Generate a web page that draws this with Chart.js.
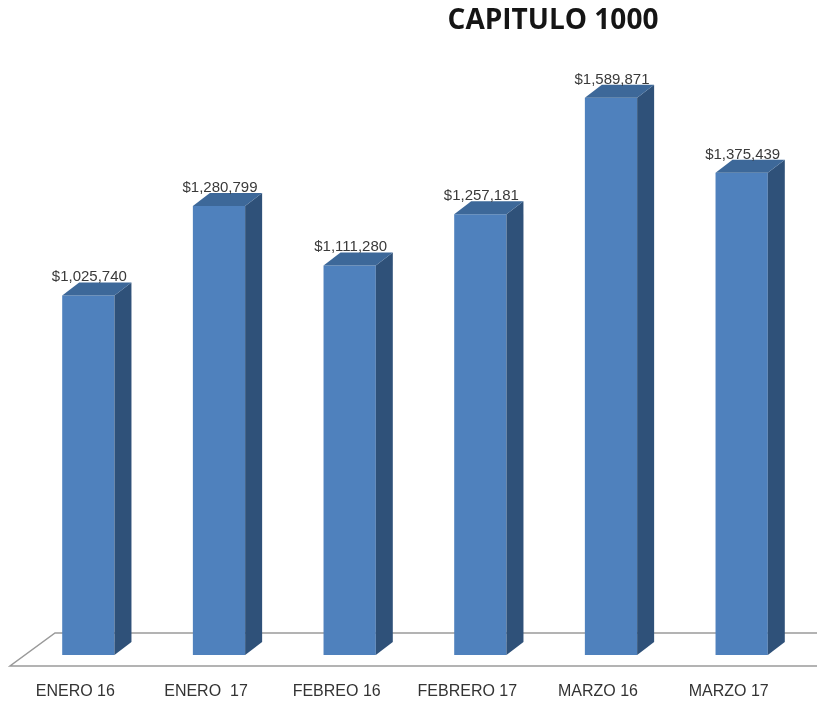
<!DOCTYPE html>
<html>
<head>
<meta charset="utf-8">
<script src="https://cdn.jsdelivr.net/npm/chart.js@4.4.1/dist/chart.umd.min.js"></script>
<style>
html,body{margin:0;padding:0;background:#fff;}
#wrap{position:relative;width:817px;height:702px;}
</style>
</head>
<body>
<div id="wrap"><canvas id="c" width="817" height="702"></canvas></div>
<script>
const title = "CAPITULO 1000";
const categories = ["ENERO 16", "ENERO  17", "FEBREO 16", "FEBRERO 17", "MARZO 16", "MARZO 17"];
const values = [1025740, 1280799, 1111280, 1257181, 1589871, 1375439];

const FRONT = "#4F81BD";
const TOP = "#3D6899";
const SIDE = "#2F5179";
const DX = 17, DY = 13;

function fmt(v){ return "$" + v.toLocaleString("en-US"); }

const threeD = {
  id: "threeD",
  beforeDatasetsDraw(chart){
    const ctx = chart.ctx;
    const y0 = chart.scales.y.getPixelForValue(0);
    const right = chart.width;
    ctx.save();
    ctx.strokeStyle = "#9a9a9a";
    ctx.lineWidth = 1.5;
    ctx.beginPath();
    ctx.moveTo(right, y0 - 22);
    ctx.lineTo(55, y0 - 22);
    ctx.lineTo(10, y0 + 11);
    ctx.lineTo(right, y0 + 11);
    ctx.stroke();
    ctx.restore();
  },
  afterDatasetsDraw(chart){
    const ctx = chart.ctx;
    const meta = chart.getDatasetMeta(0);
    ctx.save();
    meta.data.forEach((bar, i) => {
      const w = bar.width;
      const l = bar.x - w/2, r = bar.x + w/2;
      const t = bar.y, b = bar.base;
      ctx.fillStyle = SIDE;
      ctx.beginPath();
      ctx.moveTo(r, t); ctx.lineTo(r + DX, t - DY); ctx.lineTo(r + DX, b - DY); ctx.lineTo(r, b);
      ctx.closePath(); ctx.fill();
      ctx.fillStyle = TOP;
      ctx.beginPath();
      ctx.moveTo(l, t); ctx.lineTo(l + DX, t - DY); ctx.lineTo(r + DX, t - DY); ctx.lineTo(r, t);
      ctx.closePath(); ctx.fill();
      ctx.fillStyle = "#3a3a3a";
      ctx.font = "15px 'Liberation Sans', Arial, sans-serif";
      ctx.textAlign = "center";
      ctx.textBaseline = "alphabetic";
      ctx.fillText(fmt(values[i]), bar.x + 1, t - DY - 1);
    });
    ctx.fillStyle = "#151515";
    ctx.font = "bold 28px 'Open Sans', sans-serif";
    ctx.textAlign = "center";
    ctx.textBaseline = "middle";
    ctx.fillText(title, 553, 21);
    ctx.restore();
  }
};

new Chart(document.getElementById("c"), {
  type: "bar",
  data: {
    labels: categories,
    datasets: [{
      data: values,
      backgroundColor: FRONT,
      borderWidth: 0,
      barPercentage: 0.4,
      categoryPercentage: 1.0
    }]
  },
  options: {
    responsive: false,
    animation: false,
    layout: { padding: { left: 23, right: 10, top: 24, bottom: 0 } },
    plugins: { legend: { display: false }, tooltip: { enabled: false }, title: { display: false } },
    scales: {
      y: { display: false, min: 0, max: 1800000 },
      x: {
        grid: { display: false, drawTicks: false },
        border: { display: false },
        ticks: {
          color: "#333",
          font: { family: "'Liberation Sans Narrow', 'Liberation Sans', sans-serif", size: 16 },
          padding: 27,
          labelOffset: -13,
          maxRotation: 0,
          autoSkip: false
        },
        afterFit(scale){ scale.height = 47; }
      }
    }
  },
  plugins: [threeD]
});
</script>
</body>
</html>
